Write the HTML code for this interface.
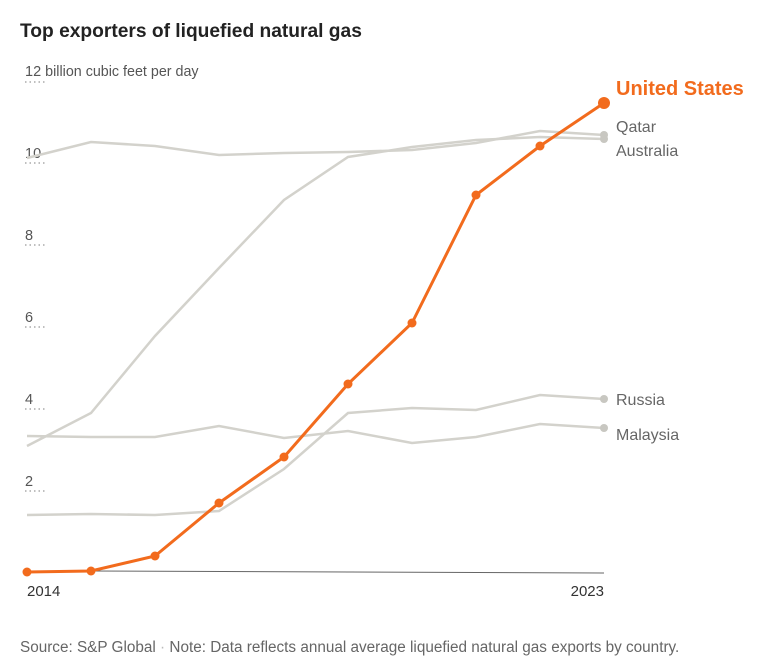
<!DOCTYPE html><html><head><style>body{margin:0;background:#fff;font-family:"Liberation Sans",sans-serif}</style></head><body>
<svg width="768" height="663" xmlns="http://www.w3.org/2000/svg" font-family="Liberation Sans, sans-serif">
<text x="20" y="37" font-size="19.2" font-weight="bold" fill="#222">Top exporters of liquefied natural gas</text>
<g fill="#555" font-size="14.5">
<text x="25" y="76">12 <tspan font-size="14.3">billion cubic feet per day</tspan></text>
<text x="25" y="158">10</text><text x="25" y="240">8</text><text x="25" y="322">6</text><text x="25" y="404">4</text><text x="25" y="486">2</text>
</g>
<g stroke="#999" stroke-dasharray="1.5,3" stroke-width="1.2">
<line x1="25" x2="45" y1="82" y2="82"/><line x1="25" x2="45" y1="163" y2="163"/><line x1="25" x2="45" y1="245" y2="245"/><line x1="25" x2="45" y1="327" y2="327"/><line x1="25" x2="45" y1="409" y2="409"/><line x1="25" x2="45" y1="491" y2="491"/>
</g>
<line x1="91" y1="571" x2="604" y2="573" stroke="#666" stroke-width="1"/>
<g fill="none" stroke="#d3d2cc" stroke-width="2.5">
<polyline points="27,158 91,142 155,146 219,155 284,153 348,152 412,150 476,143 540,131 604,135"/>
<polyline points="27,446 91,413 155,336 219,268 284,200 348,157 412,147 476,140 540,137 604,139"/>
<polyline points="27,436 91,437 155,437 219,426 284,438 348,431 412,443 476,437 540,424 604,428"/>
<polyline points="27,515 91,514 155,515 219,511 284,469 348,413 412,408 476,410 540,395 604,399"/>
</g>
<g fill="#c8c7c1"><circle cx="604" cy="135" r="4"/><circle cx="604" cy="139" r="4"/><circle cx="604" cy="399" r="4"/><circle cx="604" cy="428" r="4"/></g>
<polyline fill="none" stroke="#f26b1d" stroke-width="3" points="27,572 91,571 155,556 219,503 284,457 348,384 412,323 476,195 540,146 604,103"/>
<g fill="#f26b1d"><circle cx="27" cy="572" r="4.5"/><circle cx="91" cy="571" r="4.5"/><circle cx="155" cy="556" r="4.5"/><circle cx="219" cy="503" r="4.5"/><circle cx="284" cy="457" r="4.5"/><circle cx="348" cy="384" r="4.5"/><circle cx="412" cy="323" r="4.5"/><circle cx="476" cy="195" r="4.5"/><circle cx="540" cy="146" r="4.5"/><circle cx="604" cy="103" r="6"/></g>
<text x="616" y="95" font-size="20" font-weight="bold" fill="#f26b1d">United States</text>
<g fill="#666" font-size="16"><text x="616" y="132">Qatar</text><text x="616" y="156">Australia</text><text x="616" y="405">Russia</text><text x="616" y="440">Malaysia</text></g>
<g fill="#333" font-size="15"><text x="27" y="596">2014</text><text x="604" y="596" text-anchor="end">2023</text></g>
<text x="20" y="652" font-size="15.3" fill="#666">Source: S&amp;P Global  <tspan fill="#bbb">·</tspan>  Note: Data reflects annual average liquefied natural gas exports by country.</text>
</svg></body></html>
